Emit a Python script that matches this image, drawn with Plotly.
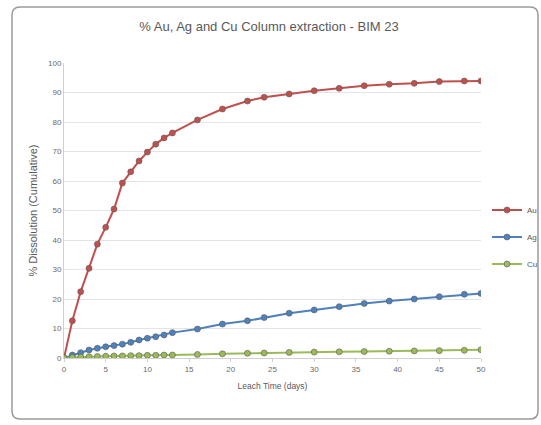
import plotly.graph_objects as go

days = [0, 1, 2, 3, 4, 5, 6, 7, 8, 9, 10, 11, 12, 13, 16, 19, 22, 24, 27, 30, 33, 36, 39, 42, 45, 48, 50]
au = [0, 12.6, 22.5, 30.4, 38.6, 44.3, 50.5, 59.3, 63.1, 66.8, 69.8, 72.5, 74.6, 76.3, 80.7, 84.4, 87.1,
      88.4, 89.5, 90.6, 91.4, 92.3, 92.8, 93.1, 93.7, 93.9, 93.9]
ag = [0, 1.0, 1.8, 2.7, 3.3, 3.8, 4.2, 4.7, 5.3, 6.1, 6.7, 7.2, 7.8, 8.6, 9.8, 11.5, 12.6,
      13.7, 15.2, 16.3, 17.4, 18.5, 19.3, 20.0, 20.8, 21.6, 21.9]
cu = [0, 0.2, 0.3, 0.4, 0.5, 0.6, 0.7, 0.7, 0.8, 0.8, 0.9, 0.9, 1.0, 1.0, 1.2, 1.4, 1.6,
      1.7, 1.9, 2.0, 2.1, 2.2, 2.3, 2.4, 2.5, 2.6, 2.8]
series_names = ["Au", "Ag", "Cu"]
colors = ["#C0504D", "#4F81BD", "#9BBB59"]
x_ticks = [0, 5, 10, 15, 20, 25, 30, 35, 40, 45, 50]
y_ticks = [0, 10, 20, 30, 40, 50, 60, 70, 80, 90, 100]

W, H = 541, 425
L, R, T, B = 64, 60, 63, 67
pw, ph = W - L - R, H - T - B

fig = go.Figure()
for name, vals, col in zip(series_names, [au, ag, cu], colors):
    fig.add_trace(go.Scatter(
        x=days, y=vals, name=name, mode="lines+markers",
        line=dict(color=col, width=2),
        marker=dict(color=col, size=6, line=dict(color="#5a5a5a", width=0.6)),
        legendgroup=name,
    ))

def px_to_paper(xp, yp):
    return (xp - L) / pw, (H - B - yp) / ph

# rounded frame
x0, y0, x1, y1, r = 12, 7, 538, 419, 8
def P(xp, yp):
    a, b = px_to_paper(xp, yp)
    return f"{a:.5f},{b:.5f}"
path = (f"M {P(x0 + r, y0)} L {P(x1 - r, y0)} Q {P(x1, y0)} {P(x1, y0 + r)} "
        f"L {P(x1, y1 - r)} Q {P(x1, y1)} {P(x1 - r, y1)} "
        f"L {P(x0 + r, y1)} Q {P(x0, y1)} {P(x0, y1 - r)} "
        f"L {P(x0, y0 + r)} Q {P(x0, y0)} {P(x0 + r, y0)} Z")
fig.add_shape(type="path", xref="paper", yref="paper", path=path,
              line=dict(color="#9a9a9a", width=1.5), fillcolor="rgba(0,0,0,0)", layer="below")

font_main = "Liberation Sans, Arial, sans-serif"
fig.update_layout(
    width=W, height=H,
    margin=dict(l=L, r=R, t=T, b=B, autoexpand=False),
    paper_bgcolor="white", plot_bgcolor="white",
    font=dict(family=font_main, color="#595959", size=8),
    title=dict(text="% Au, Ag and Cu Column extraction - BIM 23", x=269 / W, xanchor="center",
               y=1 - 26 / H, yanchor="middle", font=dict(size=13, color="#595959")),
    xaxis=dict(range=[0, 50], tickvals=x_ticks, showgrid=False, zeroline=False, automargin=False,
               showline=True, linecolor="#d0d0d0", ticks="outside", tickcolor="#d0d0d0", ticklen=3,
               tickfont=dict(size=8, color="#6a6a6a"),
               title=dict(text="Leach Time (days)", font=dict(size=8.5, color="#595959"), standoff=10)),
    yaxis=dict(range=[0, 100], tickvals=y_ticks, showgrid=True, gridcolor="#e4e4e4", zeroline=False,
               automargin=False,
               showline=True, linecolor="#d0d0d0", ticks="",
               tickfont=dict(size=8, color="#6a6a6a"),
               title=dict(text="% Dissolution (Cumulative)", font=dict(size=11, color="#595959"), standoff=8)),
    legend=dict(x=(487 - L) / pw, y=(H - B - 237) / ph, xanchor="left", yanchor="middle",
                font=dict(size=8, color="#595959"), itemwidth=30, tracegroupgap=8,
                bgcolor="rgba(0,0,0,0)"),
    showlegend=True,
)

fig.write_html("out.html", config={"displayModeBar": False},
               post_script="document.body.style.margin='0';")
